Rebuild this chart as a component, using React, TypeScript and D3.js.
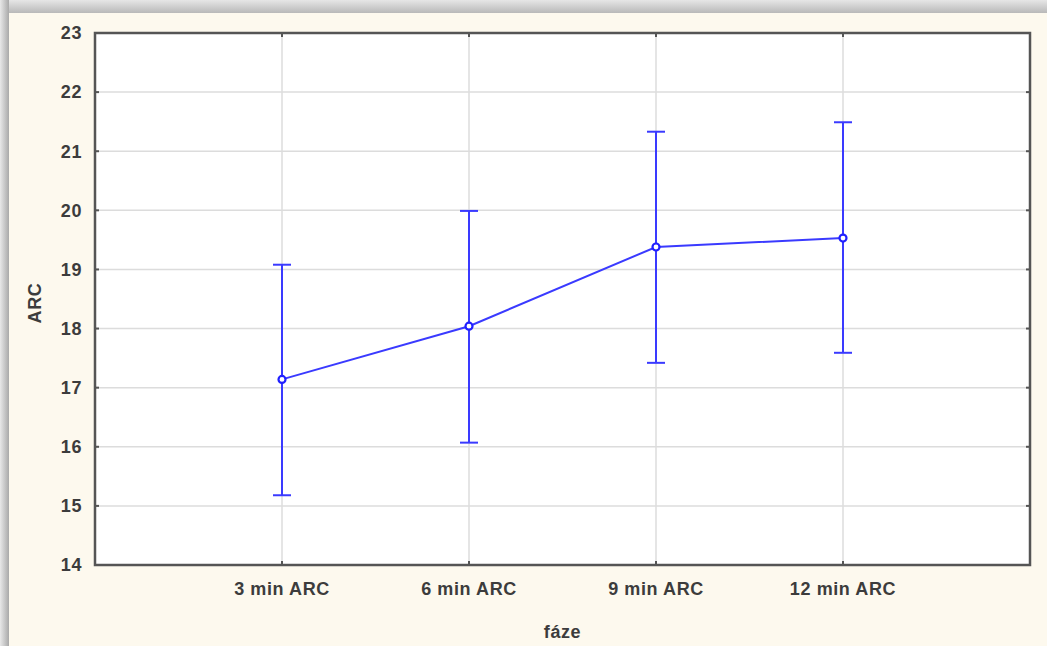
import React, { useEffect, useRef } from "react";
import * as d3 from "d3";

const categories = ["3 min ARC", "6 min ARC", "9 min ARC", "12 min ARC"];
const means = [17.14, 18.04, 19.38, 19.53];
const upper = [19.08, 19.99, 21.33, 21.49];
const lower = [15.18, 16.07, 17.42, 17.59];
const yTicks = [14, 15, 16, 17, 18, 19, 20, 21, 22, 23];

const W = 1047;
const H = 646;

const App = () => {
  const svgRef = useRef<SVGSVGElement>(null);

  useEffect(() => {
    const svg = d3.select(svgRef.current);
    svg.selectAll("*").remove();

    const margin = { top: 33, right: 17, bottom: 81, left: 95 };
    const blue = "#3a3aff";
    const axisColor = "#555";
    const font = "Liberation Sans, Arial, sans-serif";
    const textColor = "#3c3c3c";

    // background frame with shadow
    const defs = svg.append("defs");
    const topGrad = defs
      .append("linearGradient")
      .attr("id", "topShadow")
      .attr("x1", 0)
      .attr("y1", 0)
      .attr("x2", 0)
      .attr("y2", 1);
    topGrad.append("stop").attr("offset", "0%").attr("stop-color", "#e6e6e6");
    topGrad.append("stop").attr("offset", "100%").attr("stop-color", "#b9b9b9");
    const leftGrad = defs
      .append("linearGradient")
      .attr("id", "leftShadow")
      .attr("x1", 0)
      .attr("y1", 0)
      .attr("x2", 1)
      .attr("y2", 0);
    leftGrad.append("stop").attr("offset", "0%").attr("stop-color", "#e8e8e8");
    leftGrad.append("stop").attr("offset", "100%").attr("stop-color", "#a9a9a9");

    svg.append("rect").attr("width", W).attr("height", H).attr("fill", "#fdf9ee");
    svg.append("rect").attr("width", W).attr("height", 13).attr("fill", "url(#topShadow)");
    svg.append("rect").attr("width", 9).attr("height", H).attr("fill", "url(#leftShadow)");

    const x = d3
      .scaleLinear()
      .domain([0, categories.length + 1])
      .range([margin.left, W - margin.right]);

    const y = d3
      .scaleLinear()
      .domain([14, 23])
      .range([H - margin.bottom, margin.top]);

    const textStyle = (sel: any) =>
      sel
        .attr("font-family", font)
        .attr("font-size", 18)
        .attr("font-weight", "bold")
        .attr("letter-spacing", 0.6)
        .attr("fill", textColor);

    // plot area
    svg
      .append("rect")
      .attr("x", x(0))
      .attr("y", y(23))
      .attr("width", x(categories.length + 1) - x(0))
      .attr("height", y(14) - y(23))
      .attr("fill", "#fff");

    // gridlines
    svg
      .append("g")
      .selectAll("line")
      .data(yTicks.slice(1, -1))
      .join("line")
      .attr("x1", x(0))
      .attr("x2", x(categories.length + 1))
      .attr("y1", (d) => y(d))
      .attr("y2", (d) => y(d))
      .attr("stroke", "#dcdcdc")
      .attr("stroke-width", 1.5);

    svg
      .append("g")
      .selectAll("line")
      .data(categories)
      .join("line")
      .attr("x1", (_, i) => x(i + 1))
      .attr("x2", (_, i) => x(i + 1))
      .attr("y1", y(23))
      .attr("y2", y(14))
      .attr("stroke", "#dcdcdc")
      .attr("stroke-width", 1.5);

    // frame
    svg
      .append("rect")
      .attr("x", x(0))
      .attr("y", y(23))
      .attr("width", x(categories.length + 1) - x(0))
      .attr("height", y(14) - y(23))
      .attr("fill", "none")
      .attr("stroke", axisColor)
      .attr("stroke-width", 2.5);

    // small ticks on the frame
    const tickG = svg.append("g").attr("stroke", axisColor).attr("stroke-width", 2);
    yTicks.forEach((t) => {
      tickG.append("line").attr("x1", x(0)).attr("x2", x(0) + 4).attr("y1", y(t)).attr("y2", y(t));
      tickG
        .append("line")
        .attr("x1", x(categories.length + 1))
        .attr("x2", x(categories.length + 1) - 4)
        .attr("y1", y(t))
        .attr("y2", y(t));
    });
    categories.forEach((_, i) => {
      tickG.append("line").attr("x1", x(i + 1)).attr("x2", x(i + 1)).attr("y1", y(14)).attr("y2", y(14) - 4);
      tickG.append("line").attr("x1", x(i + 1)).attr("x2", x(i + 1)).attr("y1", y(23)).attr("y2", y(23) + 4);
    });

    // y tick labels
    svg
      .append("g")
      .selectAll("text")
      .data(yTicks)
      .join("text")
      .attr("x", x(0) - 13)
      .attr("y", (d) => y(d))
      .attr("dy", "0.35em")
      .attr("text-anchor", "end")
      .call(textStyle)
      .text((d) => d);

    // x tick labels
    svg
      .append("g")
      .selectAll("text")
      .data(categories)
      .join("text")
      .attr("x", (_, i) => x(i + 1))
      .attr("y", y(14) + 30)
      .attr("text-anchor", "middle")
      .call(textStyle)
      .text((d) => d);

    // axis titles
    svg
      .append("text")
      .attr("x", x((categories.length + 1) / 2))
      .attr("y", 638)
      .attr("text-anchor", "middle")
      .call(textStyle)
      .text("fáze");

    svg
      .append("text")
      .attr("transform", `translate(41,${(y(14) + y(23)) / 2 + 4}) rotate(-90)`)
      .attr("text-anchor", "middle")
      .call(textStyle)
      .text("ARC");

    // error bars
    const bars = svg.append("g").attr("stroke", blue).attr("stroke-width", 2);
    categories.forEach((_, i) => {
      const cx = x(i + 1);
      bars.append("line").attr("x1", cx).attr("x2", cx).attr("y1", y(lower[i])).attr("y2", y(upper[i]));
      bars.append("line").attr("x1", cx - 9).attr("x2", cx + 9).attr("y1", y(upper[i])).attr("y2", y(upper[i]));
      bars.append("line").attr("x1", cx - 9).attr("x2", cx + 9).attr("y1", y(lower[i])).attr("y2", y(lower[i]));
    });

    // mean line
    const line = d3
      .line<number>()
      .x((_, i) => x(i + 1))
      .y((d) => y(d));

    svg
      .append("path")
      .datum(means)
      .attr("d", line)
      .attr("fill", "none")
      .attr("stroke", blue)
      .attr("stroke-width", 2);

    svg
      .append("g")
      .selectAll("circle")
      .data(means)
      .join("circle")
      .attr("cx", (_, i) => x(i + 1))
      .attr("cy", (d) => y(d))
      .attr("r", 3.5)
      .attr("fill", "#fff")
      .attr("stroke", "#2020ff")
      .attr("stroke-width", 2.2);
  }, []);

  return (
    <div style={{ position: "fixed", left: 0, top: 0, width: W, height: H }}>
      <svg ref={svgRef} width={W} height={H} style={{ display: "block" }} />
    </div>
  );
};

export default App;
